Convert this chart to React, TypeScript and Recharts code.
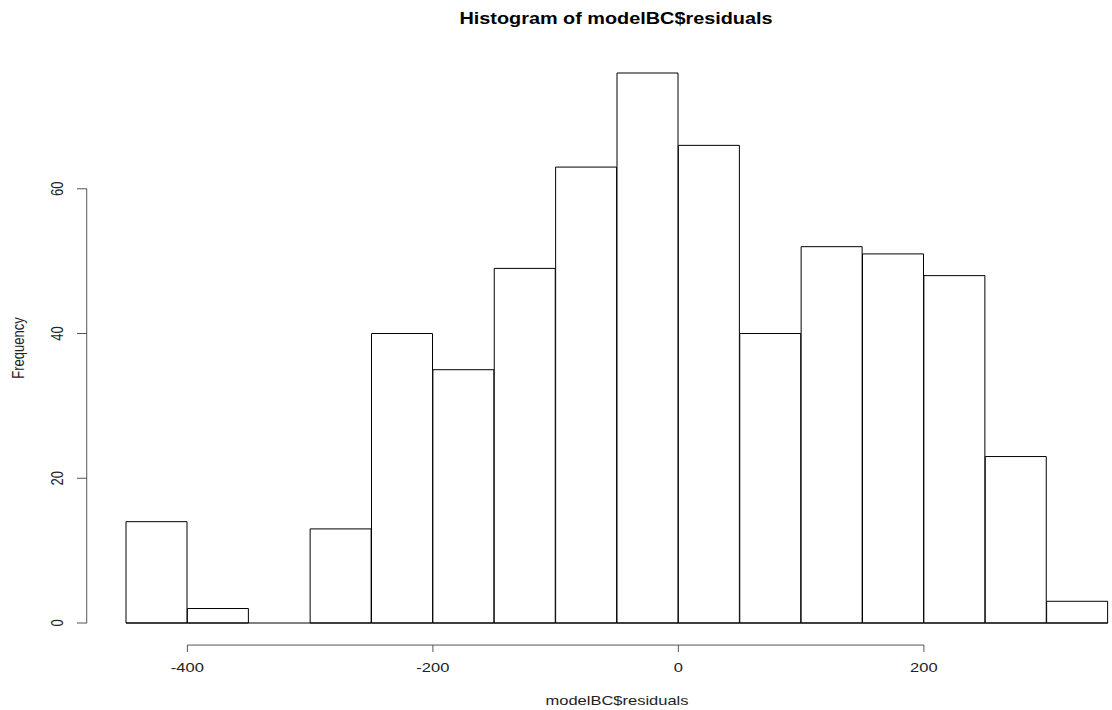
import { Bar, ComposedChart, ReferenceLine, XAxis, YAxis } from 'recharts'

// histogram bin edges and counts per bin
const BREAKS = [-450, -400, -350, -300, -250, -200, -150, -100, -50, 0, 50, 100, 150, 200, 250, 300, 350]
const COUNTS = [14, 2, 0, 13, 40, 35, 49, 63, 76, 66, 40, 52, 51, 48, 23, 3]
const X_TICKS = [-400, -200, 0, 200]
const Y_TICKS = [0, 20, 40, 60]

// where R draws its detached axis lines, in data units
const X_AXIS_AT = -3.05
const Y_AXIS_AT = -482

const FONT = '"Liberation Sans", Arial, sans-serif'
const TEXT = '#222'
const AXIS = '#555'
// the device stretches glyphs horizontally
const STRETCH = 1.27

const data = COUNTS.map((count, i) => ({
  mid: (BREAKS[i] + BREAKS[i + 1]) / 2,
  count,
}))

function WideText({ x, y, rotate, children }: any) {
  const t = rotate
    ? `translate(${x}, ${y}) scale(${STRETCH}, 1) rotate(-90)`
    : `translate(${x}, ${y}) scale(${STRETCH}, 1)`
  return (
    <text x={0} y={0} transform={t} textAnchor="middle" fontSize={13} fontFamily={FONT} fill={TEXT}>
      {children}
    </text>
  )
}

function XTick({ x, y, payload }: any) {
  return (
    <g>
      <line x1={x} y1={y + 22} x2={x} y2={y + 29} stroke={AXIS} strokeWidth={1} />
      <WideText x={x} y={y + 49}>
        {payload.value}
      </WideText>
    </g>
  )
}

function YTick({ x, y, payload }: any) {
  return (
    <g>
      <line x1={x - 49} y1={y} x2={x - 39} y2={y} stroke={AXIS} strokeWidth={1} />
      <WideText x={x - 63} y={y} rotate>
        {payload.value}
      </WideText>
    </g>
  )
}

export default function App() {
  return (
    <div style={{ position: 'absolute', left: 0, top: 0, width: 1112, height: 710, background: '#fff' }}>
      <div
        style={{
          position: 'absolute',
          left: 0,
          top: 10,
          width: 1232,
          textAlign: 'center',
          fontFamily: FONT,
          fontWeight: 'bold',
          fontSize: 16,
          color: '#000',
          transform: 'scaleX(1.24)',
          transformOrigin: '616px 0',
        }}
      >
        Histogram of modelBC$residuals
      </div>
      <ComposedChart
        width={1112}
        height={710}
        data={data}
        margin={{ top: 73, right: 4, bottom: 27, left: 0 }}
        barCategoryGap={0}
        barGap={0}
      >
        <XAxis
          dataKey="mid"
          type="number"
          domain={[BREAKS[0], BREAKS[BREAKS.length - 1]]}
          ticks={X_TICKS}
          axisLine={false}
          tickLine={false}
          tickSize={0}
          tickMargin={0}
          height={60}
          tick={<XTick />}
          label={(props: any) => {
            const vb = props.viewBox
            return (
              <WideText x={vb.x + vb.width / 2} y={vb.y + 82}>
                modelBC$residuals
              </WideText>
            )
          }}
        />
        <YAxis
          type="number"
          domain={[0, 76]}
          ticks={Y_TICKS}
          axisLine={false}
          tickLine={false}
          tickSize={0}
          tickMargin={0}
          width={126}
          tick={<YTick />}
          label={(props: any) => {
            const vb = props.viewBox
            return (
              <WideText x={24} y={vb.y + vb.height / 2} rotate>
                Frequency
              </WideText>
            )
          }}
        />
        <Bar dataKey="count" fill="#fff" stroke="#000" strokeWidth={1} isAnimationActive={false} />
        <ReferenceLine
          segment={[
            { x: BREAKS[0], y: 0 },
            { x: BREAKS[BREAKS.length - 1], y: 0 },
          ]}
          stroke="#000"
          ifOverflow="visible"
        />
        <ReferenceLine
          segment={[
            { x: X_TICKS[0], y: X_AXIS_AT },
            { x: X_TICKS[X_TICKS.length - 1], y: X_AXIS_AT },
          ]}
          stroke={AXIS}
          ifOverflow="visible"
        />
        <ReferenceLine
          segment={[
            { x: Y_AXIS_AT, y: Y_TICKS[0] },
            { x: Y_AXIS_AT, y: Y_TICKS[Y_TICKS.length - 1] },
          ]}
          stroke={AXIS}
          ifOverflow="visible"
        />
      </ComposedChart>
    </div>
  )
}
